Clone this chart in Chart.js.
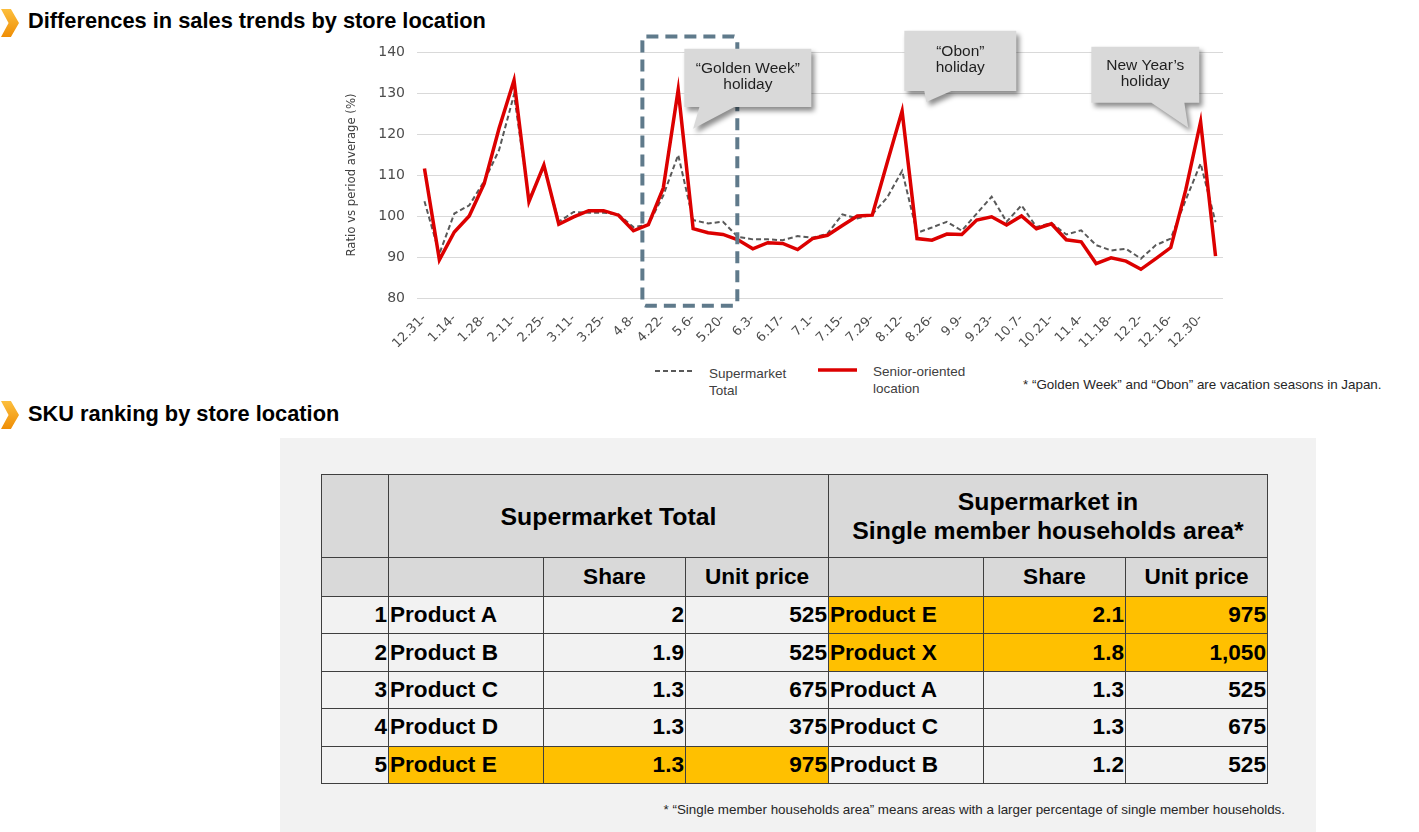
<!DOCTYPE html>
<html>
<head>
<meta charset="utf-8">
<script src="https://cdn.jsdelivr.net/npm/chart.js@4.4.1/dist/chart.umd.min.js"></script>
<style>
  body { margin: 0; width: 1419px; height: 832px; position: relative; overflow: hidden; background: #fff; font-family: "Liberation Sans", Arial, sans-serif; }
  .chev { position: absolute; left: 1px; width: 18px; height: 28px; background: linear-gradient(#fcbf3e, #ef8e06); clip-path: polygon(0 0, 55% 0, 100% 50%, 55% 100%, 0 100%, 42% 50%); }
  .heading { position: absolute; left: 28px; font-weight: bold; font-size: 21.8px; color: #000; line-height: 24px; }
  #chart-wrap { position: absolute; left: 330px; top: 26px; width: 905px; height: 330px; }
  .legend-text { position: absolute; font-size: 13.5px; color: #404040; line-height: 17px; }
  .note { position: absolute; font-size: 13.4px; color: #262626; white-space: nowrap; }
  #panel { position: absolute; left: 280px; top: 438px; width: 1036px; height: 394px; background: #f2f2f2; }
  #sku-table { position: absolute; left: 321px; top: 474px; border-collapse: collapse; table-layout: fixed; font-weight: bold; font-size: 22.6px; color: #000; }
  #sku-table td { border: 1.5px solid #3f3f3f; padding: 0 1px; white-space: nowrap; overflow: hidden; }
  #sku-table .hd { background: #d9d9d9; text-align: center; line-height: 26px; }
  #sku-table .top { font-size: 24.8px; line-height: 29px; }
  #sku-table .dt { background: #f2f2f2; }
  #sku-table .num { text-align: right; }
  #sku-table .hl { background: #ffc000; }
</style>
</head>
<body>
<div class="chev" style="top:9px"></div>
<div class="heading" style="top:9px">Differences in sales trends by store location</div>

<div id="chart-wrap"><canvas id="trend"></canvas></div>

<svg style="position:absolute;left:650px;top:362px" width="50" height="20"><line x1="5" y1="9" x2="43" y2="9" stroke="#595959" stroke-width="2" stroke-dasharray="5,3"/></svg>
<div class="legend-text" style="left:709px;top:365px">Supermarket<br>Total</div>
<svg style="position:absolute;left:814px;top:361px" width="50" height="20"><line x1="4" y1="9" x2="43" y2="9" stroke="#dc0000" stroke-width="3.5"/></svg>
<div class="legend-text" style="left:873px;top:363px">Senior-oriented<br>location</div>
<div class="note" style="left:1023px;top:377px">* “Golden Week” and “Obon” are vacation seasons in Japan.</div>

<div class="chev" style="top:401px"></div>
<div class="heading" style="top:402px">SKU ranking by store location</div>

<div id="panel"></div>
<table id="sku-table"></table>
<div class="note" style="right:134px;top:802px">* “Single member households area” means areas with a larger percentage of single member households.</div>

<script>
// --- Chart data ---
const weekLabels = [
  '12.31-', '1.7-', '1.14-', '1.21-', '1.28-', '2.4-', '2.11-', '2.18-', '2.25-', '3.4-',
  '3.11-', '3.18-', '3.25-', '4.1-', '4.8-', '4.15-', '4.22-', '4.29-', '5.6-', '5.13-',
  '5.20-', '5.27-', '6.3-', '6.10-', '6.17-', '6.24-', '7.1-', '7.8-', '7.15-', '7.22-',
  '7.29-', '8.5-', '8.12-', '8.19-', '8.26-', '9.2-', '9.9-', '9.16-', '9.23-', '9.30-',
  '10.7-', '10.14-', '10.21-', '10.28-', '11.4-', '11.11-', '11.18-', '11.25-', '12.2-', '12.9-',
  '12.16-', '12.23-', '12.30-', '1.6-'
];
const supermarketTotal = [
  103.6, 90.8, 100.6, 102.6, 108.5, 116.1, 129.6, 104.0, 112.0, 98.6,
  101.0, 100.8, 100.8, 100.4, 97.3, 97.9, 105.0, 114.9, 99.0, 98.2,
  98.6, 94.9, 94.3, 94.3, 94.1, 95.1, 94.7, 95.7, 100.4, 99.4,
  100.4, 104.5, 111.0, 95.9, 97.2, 98.6, 96.4, 100.6, 104.7, 98.6,
  102.6, 97.3, 98.3, 95.5, 96.5, 92.9, 91.6, 92.0, 89.6, 92.9,
  94.5, 103.9, 112.8, 98.5
];
const seniorLocation = [
  111.6, 89.3, 96.1, 100.0, 107.9, 121.4, 133.1, 103.5, 112.4, 98.0,
  99.8, 101.3, 101.3, 100.2, 96.4, 97.9, 106.8, 130.8, 96.9, 95.9,
  95.5, 94.2, 92.0, 93.5, 93.3, 91.8, 94.5, 95.3, 97.7, 100.0,
  100.2, 113.0, 125.6, 94.5, 94.1, 95.6, 95.5, 99.0, 99.8, 97.8,
  100.0, 96.9, 98.1, 94.2, 93.7, 88.4, 89.8, 89.0, 87.0, 89.6,
  92.3, 106.3, 123.0, 90.2
];

// callouts, anchored in (week index, value) space
const callouts = [
  { lines: ['“Golden Week”', 'holiday'], box: [17.41, 140.8, 25.92, 126.6], base: [18.42, 20.76], tip: [18.0, 121.3] },
  { lines: ['“Obon”', 'holiday'], box: [32.15, 145.2, 39.65, 130.5], base: [33.49, 35.3], tip: [33.62, 127.8] },
  { lines: ['New Year’s', 'holiday'], box: [44.68, 141.3, 51.91, 127.6], base: [48.7, 50.91], tip: [51.17, 121.5] }
];
const goldenWeekFrame = [14.6, 143.8, 20.96, 78.1];

// --- Table data ---
const ranks = [1, 2, 3, 4, 5];
const totalProducts = ['Product A', 'Product B', 'Product C', 'Product D', 'Product E'];
const totalShares = ['2', '1.9', '1.3', '1.3', '1.3'];
const totalPrices = ['525', '525', '675', '375', '975'];
const singleProducts = ['Product E', 'Product X', 'Product A', 'Product C', 'Product B'];
const singleShares = ['2.1', '1.8', '1.3', '1.3', '1.2'];
const singlePrices = ['975', '1,050', '525', '675', '525'];
const totalHighlight = [false, false, false, false, true];
const singleHighlight = [true, true, false, false, false];

// --- Table ---
const table = document.getElementById('sku-table');
const colWidths = [67, 155, 142, 143, 155, 142, 142];
table.innerHTML =
  '<colgroup>' + colWidths.map(w => `<col style="width:${w}px">`).join('') + '</colgroup>' +
  '<tr style="height:83px"><td class="hd"></td><td class="hd top" colspan="3">Supermarket Total</td>' +
  '<td class="hd top" colspan="3">Supermarket in<br>Single member households area*</td></tr>' +
  '<tr style="height:39px"><td class="hd"></td><td class="hd"></td><td class="hd">Share</td><td class="hd">Unit price</td>' +
  '<td class="hd"></td><td class="hd">Share</td><td class="hd">Unit price</td></tr>' +
  ranks.map((r, i) => {
    const a = totalHighlight[i] ? ' hl' : '';
    const b = singleHighlight[i] ? ' hl' : '';
    return `<tr style="height:37.4px"><td class="dt num">${r}</td>` +
      `<td class="dt${a}">${totalProducts[i]}</td><td class="dt num${a}">${totalShares[i]}</td><td class="dt num${a}">${totalPrices[i]}</td>` +
      `<td class="dt${b}">${singleProducts[i]}</td><td class="dt num${b}">${singleShares[i]}</td><td class="dt num${b}">${singlePrices[i]}</td></tr>`;
  }).join('');

// --- Annotations plugin ---
const annotationPlugin = {
  id: 'holidayAnnotations',
  afterDraw(chart) {
    const { ctx, scales: { x, y } } = chart;
    const px = v => x.getPixelForValue(v);
    const py = v => y.getPixelForValue(v);

    // dashed frame around Golden Week
    const [fx0, fy0, fx1, fy1] = goldenWeekFrame;
    ctx.save();
    ctx.strokeStyle = '#5f7a8b';
    ctx.lineWidth = 4;
    ctx.setLineDash([12, 7]);
    ctx.beginPath();
    ctx.roundRect(px(fx0), py(fy0), px(fx1) - px(fx0), py(fy1) - py(fy0), 4);
    ctx.stroke();
    ctx.restore();

    callouts.forEach(c => {
      const l = px(c.box[0]), t = py(c.box[1]), r = px(c.box[2]), b = py(c.box[3]);
      ctx.save();
      ctx.shadowColor = 'rgba(0,0,0,0.45)';
      ctx.shadowBlur = 5;
      ctx.shadowOffsetX = 3;
      ctx.shadowOffsetY = 4;
      ctx.fillStyle = '#d9d9d9';
      ctx.beginPath();
      ctx.moveTo(l, t);
      ctx.lineTo(r, t);
      ctx.lineTo(r, b);
      ctx.lineTo(px(c.base[1]), b);
      ctx.lineTo(px(c.tip[0]), py(c.tip[1]));
      ctx.lineTo(px(c.base[0]), b);
      ctx.lineTo(l, b);
      ctx.closePath();
      ctx.fill();
      ctx.restore();

      ctx.save();
      ctx.fillStyle = '#1f1f1f';
      ctx.font = '15.5px "Liberation Sans", Arial, sans-serif';
      ctx.textAlign = 'center';
      ctx.textBaseline = 'middle';
      const cx = (l + r) / 2, cy = (t + b) / 2 - 1;
      c.lines.forEach((line, i) => ctx.fillText(line, cx, cy + (i - (c.lines.length - 1) / 2) * 16));
      ctx.restore();
    });
  }
};

// --- Chart ---
new Chart(document.getElementById('trend'), {
  type: 'line',
  data: {
    labels: weekLabels,
    datasets: [
      { label: 'Supermarket Total', data: supermarketTotal, borderColor: '#595959', borderWidth: 2, borderDash: [5, 3], pointRadius: 0, tension: 0, order: 1 },
      { label: 'Senior-oriented location', data: seniorLocation, borderColor: '#dc0000', borderWidth: 3.5, pointRadius: 0, tension: 0, order: 0 }
    ]
  },
  options: {
    responsive: true,
    maintainAspectRatio: false,
    animation: false,
    layout: { padding: { top: 26, right: 12, left: 0, bottom: 0 } },
    plugins: { legend: { display: false }, tooltip: { enabled: false } },
    scales: {
      x: {
        offset: true,
        grid: { display: false },
        border: { display: false },
        ticks: {
          autoSkip: false, maxRotation: 45, minRotation: 45, padding: 5,
          color: '#4d4d4d', font: { family: 'DejaVu Sans', size: 13 },
          callback: (v, i) => (i % 2 === 0 ? weekLabels[i] : '')
        },
        afterFit: s => { s.height = 58; }
      },
      y: {
        min: 80, max: 140,
        ticks: { stepSize: 10, padding: 12, color: '#4d4d4d', font: { family: 'DejaVu Sans', size: 14 } },
        grid: { color: '#d9d9d9', drawTicks: false },
        border: { display: false },
        title: { display: true, text: 'Ratio vs period average (%)', color: '#404040', font: { family: 'DejaVu Sans', size: 11.7 }, padding: { top: 15, bottom: 0 } },
        afterFit: s => { s.width = 87; }
      }
    }
  },
  plugins: [annotationPlugin]
});
</script>
</body>
</html>
